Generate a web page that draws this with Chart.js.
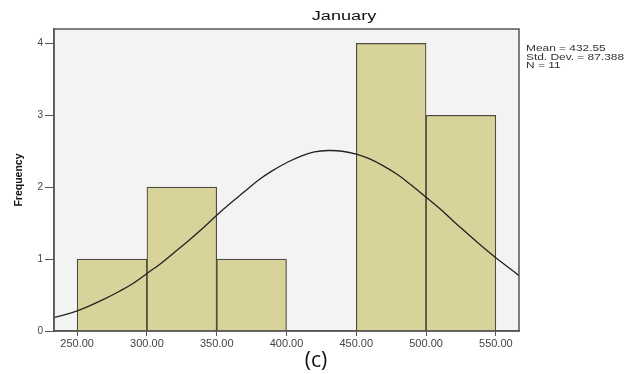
<!DOCTYPE html>
<html>
<head>
<meta charset="utf-8">
<script src="https://cdn.jsdelivr.net/npm/chart.js@4/dist/chart.umd.min.js"></script>
<style>
  html, body { margin: 0; padding: 0; background: #fff; }
  #wrap { width: 626px; height: 374px; position: relative; }
</style>
</head>
<body>
<div id="wrap"><canvas id="histChart"></canvas></div>
<script>
  // histogram bins (centres) and counts
  const binCentres = [275, 325, 375, 425, 475, 525];
  const binCounts = [1, 2, 1, 0, 4, 3];

  // fitted normal curve
  const curveX = [233.4, 240, 250, 260, 270, 280, 290, 300, 310, 320, 330, 340, 350, 360, 370, 380, 390, 400, 410, 420, 430, 440, 450, 460, 470, 480, 490, 500, 510, 520, 530, 540, 550, 560, 566.6];
  const curveY = [0.19, 0.22, 0.28, 0.36, 0.45, 0.55, 0.66, 0.80, 0.94, 1.10, 1.26, 1.43, 1.61, 1.78, 1.94, 2.10, 2.23, 2.34, 2.43, 2.49, 2.51, 2.50, 2.46, 2.39, 2.29, 2.17, 2.02, 1.86, 1.70, 1.52, 1.35, 1.18, 1.02, 0.87, 0.77];

  const xTicks = [250, 300, 350, 400, 450, 500, 550];
  const yTicks = [0, 1, 2, 3, 4];

  const statsLines = ['Mean = 432.55', 'Std. Dev. = 87.388', 'N = 11'];

  const axisColor = '#555555';

  // text stretched sideways like the source image
  function wideText(ctx, txt, x, y, sx) {
    ctx.save();
    ctx.translate(x, y);
    ctx.scale(sx, 1);
    ctx.fillText(txt, 0, 0);
    ctx.restore();
  }

  // plot background + frame, title, stats box and caption
  const frame = {
    id: 'frame',
    beforeDraw(chart) {
      const { ctx, chartArea: a } = chart;
      ctx.save();
      ctx.fillStyle = '#f3f3f3';
      ctx.fillRect(a.left, a.top, a.right - a.left, a.bottom - a.top);
      ctx.restore();
    },
    afterDraw(chart) {
      const { ctx, chartArea: a } = chart;
      ctx.save();
      ctx.strokeStyle = axisColor;
      ctx.lineWidth = 1.5;
      ctx.strokeRect(a.left, a.top, a.right - a.left, a.bottom - a.top);

      ctx.fillStyle = '#111';
      ctx.font = '12.5px "Liberation Sans"';
      ctx.textAlign = 'center';
      ctx.textBaseline = 'middle';
      wideText(ctx, 'January', 344, 17, 1.45);

      ctx.fillStyle = '#333';
      ctx.font = '8.5px "Liberation Sans"';
      ctx.textAlign = 'left';
      statsLines.forEach((s, i) => wideText(ctx, s, 526, 49 + i * 8.3, 1.4));

      ctx.fillStyle = '#111';
      ctx.font = '21px "Open Sans"';
      ctx.textAlign = 'center';
      ctx.fillText('(c)', 316, 361);
      ctx.restore();
    }
  };

  new Chart(document.getElementById('histChart'), {
    type: 'bar',
    data: {
      datasets: [
        {
          type: 'line',
          data: curveX.map((x, i) => ({ x: x, y: curveY[i] })),
          borderColor: '#222',
          borderWidth: 1.3,
          pointRadius: 0,
          tension: 0.4,
          fill: false,
          order: 0
        },
        {
          type: 'bar',
          data: binCentres.map((x, i) => ({ x: x, y: binCounts[i] })),
          backgroundColor: '#d8d39b',
          borderColor: '#4e4c3c',
          borderWidth: 1.2,
          borderSkipped: 'bottom',
          barPercentage: 1,
          categoryPercentage: 1,
          order: 1
        }
      ]
    },
    options: {
      responsive: true,
      maintainAspectRatio: false,
      animation: false,
      layout: { padding: { top: 29, right: 107, left: 13, bottom: 0 } },
      plugins: {
        legend: { display: false },
        tooltip: { enabled: false }
      },
      scales: {
        x: {
          type: 'linear',
          min: 233.4,
          max: 566.6,
          offset: false,
          afterBuildTicks: s => { s.ticks = xTicks.map(v => ({ value: v })); },
          afterFit: s => { s.height = 43; },
          ticks: {
            color: '#444',
            font: { family: 'Liberation Sans', size: 11 },
            padding: 1,
            maxRotation: 0,
            callback: v => Number(v).toFixed(2)
          },
          grid: { offset: false, drawOnChartArea: false, drawTicks: true, tickLength: 5, color: axisColor },
          border: { display: true, color: axisColor, width: 1.5 }
        },
        y: {
          min: 0,
          max: 4.2,
          afterBuildTicks: s => { s.ticks = yTicks.map(v => ({ value: v })); },
          afterFit: s => { s.width = 41; },
          ticks: { color: '#444', font: { family: 'Liberation Sans', size: 10 }, padding: 2 },
          grid: { offset: false, drawOnChartArea: false, drawTicks: true, tickLength: 9, color: axisColor },
          border: { display: true, color: axisColor, width: 1.5 },
          title: {
            display: true,
            text: 'Frequency',
            color: '#111',
            font: { family: 'Liberation Sans', size: 10.5, weight: 'bold' },
            padding: 0
          }
        }
      }
    },
    plugins: [frame]
  });
</script>
</body>
</html>
